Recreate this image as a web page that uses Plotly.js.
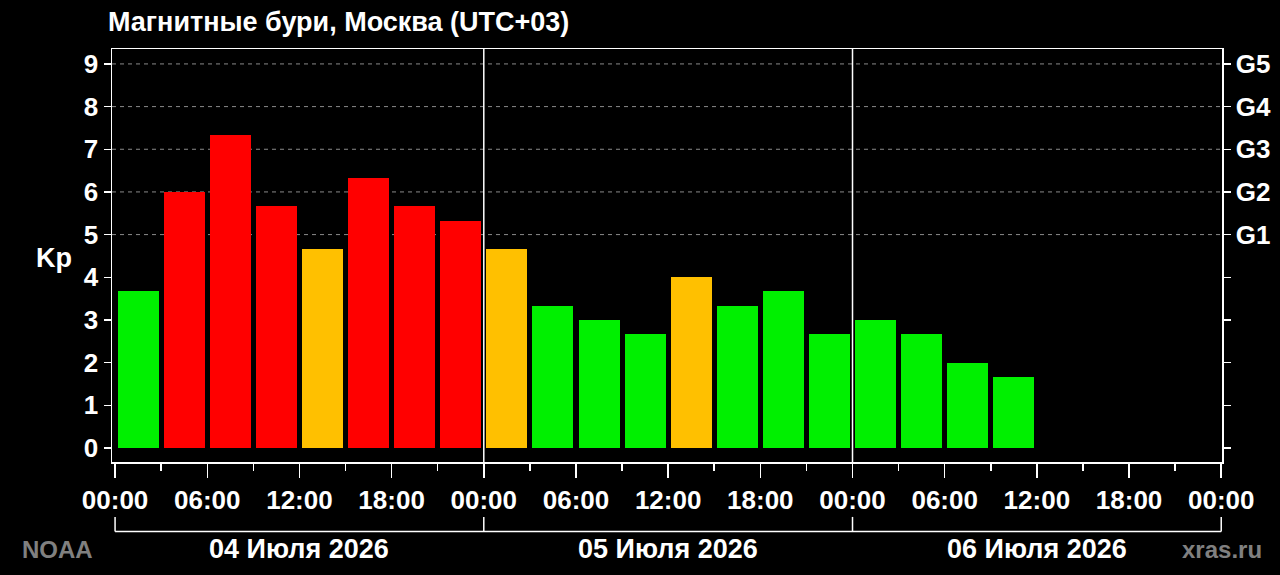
<!DOCTYPE html>
<html>
<head>
<meta charset="utf-8">
<script src="https://cdn.plot.ly/plotly-3.0.1.min.js"></script>
<style>
  html, body { margin: 0; padding: 0; background: #000; }
  #chart { width: 1280px; height: 575px; }
</style>
</head>
<body>
<div id="chart"></div>
<script>
/* Kp forecast, three days, one bar per 3-hour slot (Moscow time) */

const kpValues = [
  3.67, 6, 7.33, 5.67, 4.67, 6.33, 5.67, 5.33,
  4.67, 3.33, 3, 2.67, 4, 3.33, 3.67, 2.67,
  3, 2.67, 2, 1.67
];
const slotHours = 3;

const dayLabels = ['04 Июля 2026', '05 Июля 2026', '06 Июля 2026'];
const hourTicks = [0, 6, 12, 18, 24, 30, 36, 42, 48, 54, 60, 66, 72];
const hourTickText = ['00:00', '06:00', '12:00', '18:00', '00:00', '06:00', '12:00',
  '18:00', '00:00', '06:00', '12:00', '18:00', '00:00'];
const kpTicks = [0, 1, 2, 3, 4, 5, 6, 7, 8, 9];
const stormTicks = ['', '', '', '', '', 'G1', 'G2', 'G3', 'G4', 'G5'];
const stormLevels = [5, 6, 7, 8, 9];

const FONT = "'Liberation Sans', Arial, sans-serif";
const GREEN = '#00f000';
const ORANGE = '#ffc000';
const RED = '#ff0000';

function kpColor(v) {
  if (v >= 5) return RED;
  if (v >= 4) return ORANGE;
  return GREEN;
}

const barX = kpValues.map((v, i) => i * slotHours + slotHours / 2);

const traces = [
  {
    type: 'bar',
    x: barX,
    y: kpValues,
    width: slotHours * 0.89,
    marker: { color: kpValues.map(kpColor), line: { width: 0 } },
    hoverinfo: 'x+y',
    showlegend: false,
  },
  // invisible trace to anchor the right-hand G scale
  {
    type: 'scatter',
    x: [0],
    y: [0],
    yaxis: 'y2',
    mode: 'markers',
    marker: { opacity: 0 },
    hoverinfo: 'skip',
    showlegend: false,
  },
];

const yRange = [-0.33, 9.35];
const xRange = [-0.2, 72.05];
const dayCount = dayLabels.length;

/* ── Shapes: storm-level grid, day separators, date bracket ───────────────── */
const shapes = [];

stormLevels.forEach(lv => {
  shapes.push({
    type: 'line', xref: 'paper', yref: 'y',
    x0: 0, x1: 1, y0: lv, y1: lv,
    line: { color: '#8a8a8a', width: 1, dash: '4px,4px' },
    layer: 'below',
  });
});

for (let d = 1; d < dayCount; d++) {
  shapes.push({
    type: 'line', xref: 'x', yref: 'paper',
    x0: d * 24, x1: d * 24, y0: 0, y1: 1,
    line: { color: '#ffffff', width: 1.5 },
  });
}

const bracketY = -0.168;
const bracketTop = -0.133;
shapes.push({
  type: 'line', xref: 'x', yref: 'paper',
  x0: 0, x1: dayCount * 24, y0: bracketY, y1: bracketY,
  line: { color: '#ffffff', width: 1.5 },
});
for (let d = 0; d <= dayCount; d++) {
  shapes.push({
    type: 'line', xref: 'x', yref: 'paper',
    x0: d * 24, x1: d * 24, y0: bracketY, y1: bracketTop,
    line: { color: '#ffffff', width: 1.5 },
  });
}

/* ── Annotations ──────────────────────────────────────────────────────────── */
const labelFont = { family: FONT, size: 27, color: '#ffffff', weight: 'bold' };
const grayFont = { family: FONT, size: 24, color: '#808080', weight: 'bold' };

const annotations = dayLabels.map((txt, d) => ({
  text: txt, xref: 'x', yref: 'paper',
  x: d * 24 + 12, y: -0.211,
  xanchor: 'center', yanchor: 'middle',
  showarrow: false, font: labelFont,
}));

annotations.push({
  text: 'Kp', xref: 'paper', yref: 'y',
  x: -0.052, y: 4.45, xanchor: 'center', yanchor: 'middle',
  showarrow: false, font: labelFont,
});
annotations.push({
  text: 'NOAA', xref: 'paper', yref: 'paper',
  x: -0.049, y: -0.211, xanchor: 'center', yanchor: 'middle',
  showarrow: false, font: grayFont,
});
annotations.push({
  text: 'xras.ru', xref: 'paper', yref: 'paper',
  x: 1.0, y: -0.211, xanchor: 'center', yanchor: 'middle',
  showarrow: false, font: grayFont,
});

const tickFont = { family: FONT, size: 26, color: '#ffffff', weight: 'bold' };

const layout = {
  width: 1280,
  height: 575,
  paper_bgcolor: '#000000',
  plot_bgcolor: '#000000',
  margin: { l: 112, r: 58, t: 49, b: 113 },
  font: { family: FONT, color: '#ffffff' },
  bargap: 0,
  title: {
    text: 'Магнитные бури, Москва (UTC+03)',
    font: { family: FONT, size: 27, color: '#ffffff', weight: 'bold' },
    xref: 'container', yref: 'container',
    x: 108 / 1280, y: 1 - 22 / 575,
    xanchor: 'left', yanchor: 'middle',
  },
  xaxis: {
    range: xRange,
    tickmode: 'array',
    tickvals: hourTicks,
    ticktext: hourTickText,
    ticks: 'outside',
    ticklen: 14,
    tickwidth: 1.5,
    tickcolor: '#ffffff',
    tickfont: tickFont,
    minor: { tickmode: 'linear', tick0: 0, dtick: 3, ticks: 'outside', ticklen: 7, tickwidth: 1.5, tickcolor: '#ffffff', showgrid: false },
    showgrid: false,
    zeroline: false,
    showline: true,
    linecolor: '#ffffff',
    linewidth: 1.5,
    mirror: true,
    fixedrange: true,
  },
  yaxis: {
    range: yRange,
    tickmode: 'array',
    tickvals: kpTicks,
    ticktext: kpTicks.map(String),
    ticks: 'outside',
    ticklen: 7,
    tickwidth: 1.5,
    tickcolor: '#ffffff',
    tickfont: tickFont,
    showgrid: false,
    zeroline: false,
    showline: true,
    linecolor: '#ffffff',
    linewidth: 1.5,
    fixedrange: true,
  },
  yaxis2: {
    overlaying: 'y',
    side: 'right',
    range: yRange,
    tickmode: 'array',
    tickvals: kpTicks,
    ticktext: stormTicks,
    ticks: 'outside',
    ticklen: 7,
    tickwidth: 1.5,
    tickcolor: '#ffffff',
    tickfont: tickFont,
    showgrid: false,
    zeroline: false,
    showline: true,
    linecolor: '#ffffff',
    linewidth: 1.5,
    fixedrange: true,
  },
  shapes: shapes,
  annotations: annotations,
};

Plotly.newPlot('chart', traces, layout, { displayModeBar: false, staticPlot: true });
</script>
</body>
</html>
